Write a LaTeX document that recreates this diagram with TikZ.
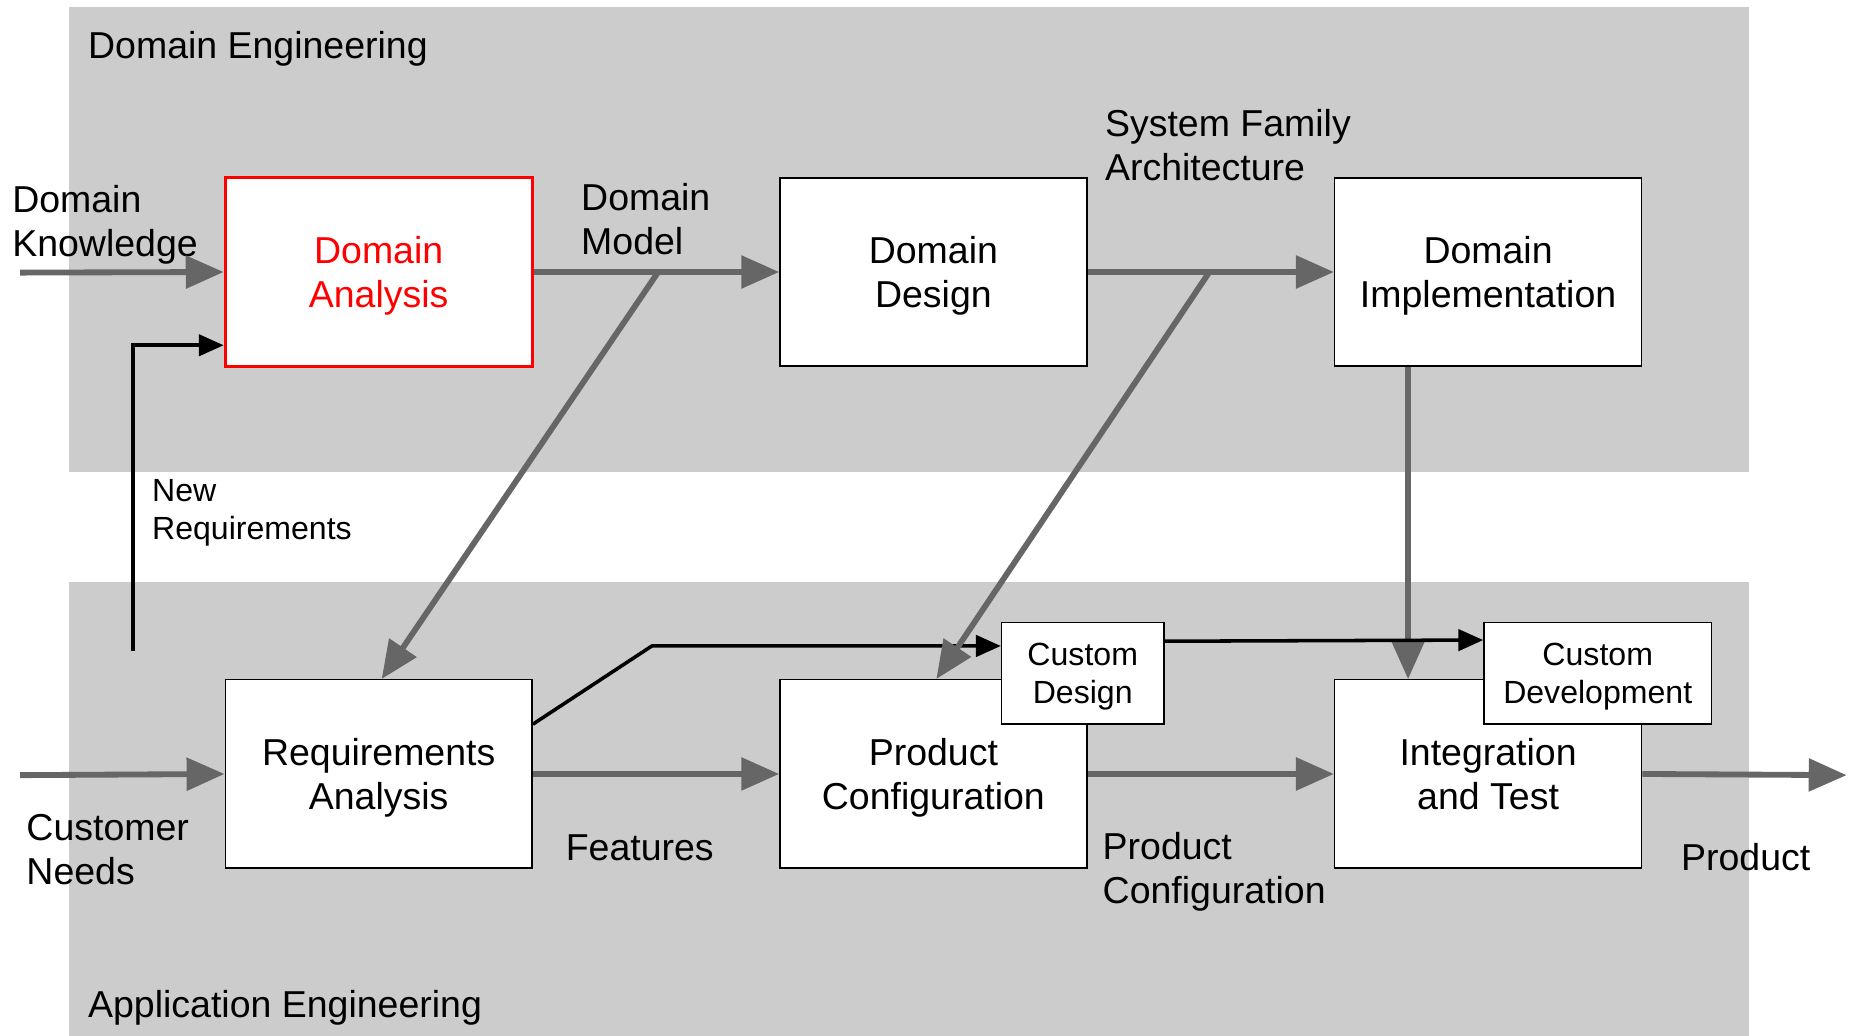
\documentclass[tikz,border=0pt]{standalone}
\usepackage{fontspec}
\setmainfont{Liberation Sans}
\usetikzlibrary{arrows.meta, positioning}
\definecolor{bandgray}{RGB}{204, 204, 204}
\definecolor{flowgray}{RGB}{102, 102, 102}

\begin{document}
\begin{tikzpicture}[x=0.02cm, y=-0.02cm,
  box/.style={draw, fill=white, line width=0.7pt, minimum width=5.18cm, minimum height=3.18cm, align=center, text depth=0pt, font=\fontsize{18}{21}\selectfont},
  cbox/.style={draw, fill=white, line width=0.7pt, minimum width=2.74cm, minimum height=1.72cm, align=center, text depth=0pt, inner sep=2pt, font=\fontsize{15.4}{18.2}\selectfont},
  lbl/.style={anchor=west, align=left, inner sep=0pt, text depth=0pt, font=\fontsize{18}{21}\selectfont},
  flow/.style={draw=flowgray, line width=2.8pt, -{Triangle[length=0.64cm, width=0.54cm]}},
  link/.style={line width=1.7pt, -{Triangle[length=0.42cm, width=0.36cm]}}
]
  \useasboundingbox (0,0) rectangle (1560,874);
  \fill[bandgray] (58,6) rectangle (1476,398);
  \fill[bandgray] (58,491) rectangle (1476,874);

  \node[lbl] (de) at (74,38) {Domain Engineering};
  \node[lbl] (ae) at (74,847) {Application Engineering};

  \node[box, draw=red, line width=1.5pt, text=red] (da) at (319.5,229.5) {Domain\\Analysis};
  \node[box] (dd) at (787.5,229.5) {Domain\\Design};
  \node[box] (di) at (1255.5,229.5) {Domain\\Implementation};
  \node[box] (ra) at (319.5,653) {Requirements\\Analysis};
  \node[box] (pc) at (787.5,653) {Product\\Configuration};
  \node[box] (it) at (1255.5,653) {Integration\\and Test};
  \node[cbox] (cd) at (913.5,568) {Custom\\Design};
  \node[cbox, minimum width=3.84cm] (cdev) at (1348,568) {Custom\\Development};

  \node[lbl] (dk) at (10,186.5) {Domain\\Knowledge};
  \node[lbl] (dm) at (490,184.5) {Domain\\Model};
  \node[lbl] (sfa) at (932,122) {System Family\\Architecture};
  \node[lbl, font=\fontsize{15.4}{18.2}\selectfont] (nr) at (128,430) {New\\Requirements};
  \node[lbl] (cn) at (22,716.5) {Customer\\Needs};
  \node[lbl] (feat) at (477,715) {Features};
  \node[lbl] (pconf) at (930,732.5) {Product\\Configuration};
  \node[lbl] (prod) at (1418,723) {Product};

  \coordinate (dkin) at (17,230);
  \coordinate (cnin) at (17,654);
  \coordinate (prodout) at (1558,654);
  \coordinate (nrin) at (112,549);
  \coordinate (dmfork) at (555,230);
  \coordinate (sfafork) at (1020,230);
  \coordinate (itin) at (1188,573);
  \coordinate (bend) at (550,545);

  \draw[link] ([yshift=0.84cm]ra.east) -- (bend) -- ([yshift=0.46cm]cd.west);

  \draw[flow] (dkin) -- (da.west);
  \draw[flow] (da.east) -- (dd.west);
  \draw[flow] (dd.east) -- (di.west);
  \draw[flow] (cnin) -- (ra.west);
  \draw[flow] (ra.east) -- (pc.west);
  \draw[flow] (pc.east) -- (it.west);
  \draw[flow] (it.east) -- (prodout);
  \draw[flow] (dmfork) -- ([xshift=0.05cm]ra.north);
  \draw[flow] (sfafork) -- ([xshift=0.05cm]pc.north);
  \draw[flow] (di.south -| itin) -- (itin);

  \draw[link] (nrin) |- ([yshift=0.38cm]da.south west);
  \draw[link] ([yshift=0.54cm]cd.east) -- ([yshift=0.56cm]cdev.west);
\end{tikzpicture}
\end{document}
